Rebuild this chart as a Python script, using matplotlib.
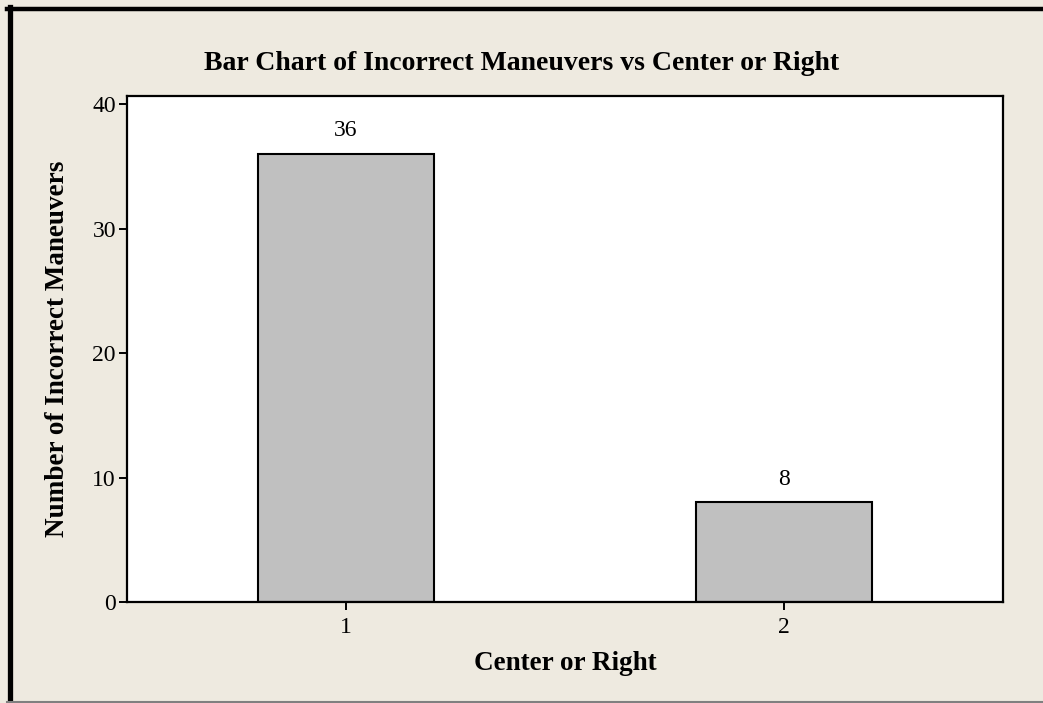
import matplotlib
matplotlib.use('Agg')
import matplotlib.pyplot as plt
from matplotlib.lines import Line2D

# counts of incorrect maneuvers by position
categories = [1, 2]
counts = [36, 8]
y_ticks = [0, 10, 20, 30, 40]

W, H = 1043, 703
BG = '#EEEAE0'

plt.rcParams['font.family'] = ['Liberation Serif', 'DejaVu Serif']

fig = plt.figure(figsize=(W / 100, H / 100), dpi=100, facecolor=BG)
ax = fig.add_axes([127 / W, 1 - 602 / H, (1003 - 127) / W, (602 - 96) / H])
ax.set_facecolor('white')

ax.bar(categories, counts, width=0.4, color='#C0C0C0', edgecolor='black', linewidth=1.5, zorder=2)
for x, v in zip(categories, counts):
    ax.annotate(str(v), (x, v), xytext=(0, 9), textcoords='offset points',
                ha='center', va='bottom', fontsize=17)

ax.set_xlim(0.5, 2.5)
ax.set_ylim(0, 40.65)
ax.set_xticks(categories)
ax.set_yticks(y_ticks)
ax.tick_params(axis='both', labelsize=17, length=6, width=1.4, color='black')
ax.tick_params(axis='y', pad=2)
ax.tick_params(axis='x', pad=5)
for s in ax.spines.values():
    s.set_linewidth(1.6)
    s.set_color('black')

fig.text(0.5, 1 - 70 / H, 'Bar Chart of Incorrect Maneuvers vs Center or Right',
         ha='center', va='baseline', fontsize=20, fontweight='bold')
fig.text(565 / W, 1 - 670 / H, 'Center or Right',
         ha='center', va='baseline', fontsize=19.5, fontweight='bold')
fig.text(70 / W, 1 - 349 / H, 'Number of Incorrect Maneuvers', rotation=90,
         ha='right', va='center', fontsize=19.5, fontweight='bold')

# window border: heavy black on left and top, thin gray at the bottom
fig.add_artist(Line2D([9.5 / W, 9.5 / W], [0, 1 - 7 / H], color='black', linewidth=3.8,
                      transform=fig.transFigure, solid_capstyle='projecting'))
fig.add_artist(Line2D([7 / W, 1], [1 - 9 / H, 1 - 9 / H], color='black', linewidth=3.2,
                      transform=fig.transFigure))
fig.add_artist(Line2D([7 / W, 1], [1.2 / H, 1.2 / H], color='#808080', linewidth=1.5,
                      transform=fig.transFigure))

fig.savefig('out.png', dpi=100, facecolor=BG)
